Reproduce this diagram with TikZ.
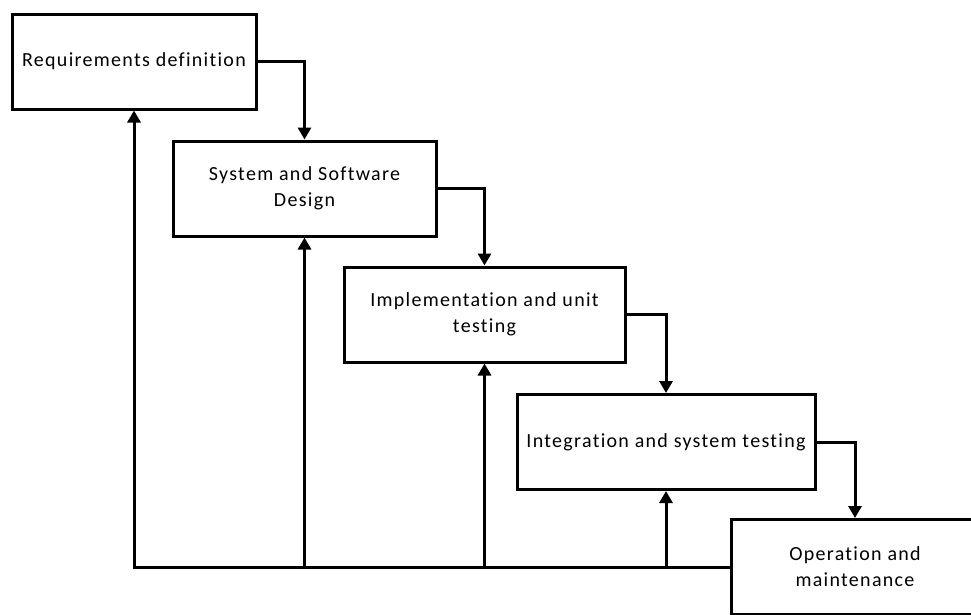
\documentclass[tikz,border=0pt]{standalone}
\usepackage{tikz,fontspec}
\usetikzlibrary{arrows.meta, positioning}
\setmainfont{Carlito}[LetterSpace=6.5, Ligatures=NoCommon]

\begin{document}
\begin{tikzpicture}[
        x=1pt, y=-1pt,
        stage/.style = {rectangle, draw, line width=3pt, inner sep=0pt, align=center,
                        minimum height=95pt},
        flow/.style = {black, line width=3pt, -{Triangle[width=13pt,length=12pt]}},
        font=\fontsize{20}{26}\selectfont
        ]
        \useasboundingbox (0,0) rectangle (971,614);
        \clip (0,0) rectangle (971,614);
        \node[stage, minimum width=244pt] (req) at (134,61.5) {Requirements definition};
        \node[stage, minimum width=263pt] (design) at (304.5,188.5) {System and Software\\Design};
        \node[stage, minimum width=281pt] (impl) at (484.5,314.5) {Implementation and unit\\testing};
        \node[stage, minimum width=298pt] (integ) at (666,442) {Integration and system testing};
        \node[stage, minimum width=248pt] (oper) at (855,567) {Operation and\\maintenance};
        
        \draw[flow] (req.east) -| (design.north);
        \draw[flow] (design.east) -| (impl.north);
        \draw[flow] (impl.east) -| (integ.north);
        \draw[flow] (integ.east) -| (oper.north);
        
        \draw[flow] (oper.west) -| (req.south);
        \draw[flow] (oper.west) -| (design.south);
        \draw[flow] (oper.west) -| (impl.south);
        \draw[flow] (oper.west) -| (integ.south);
        
      \end{tikzpicture}
\end{document}
